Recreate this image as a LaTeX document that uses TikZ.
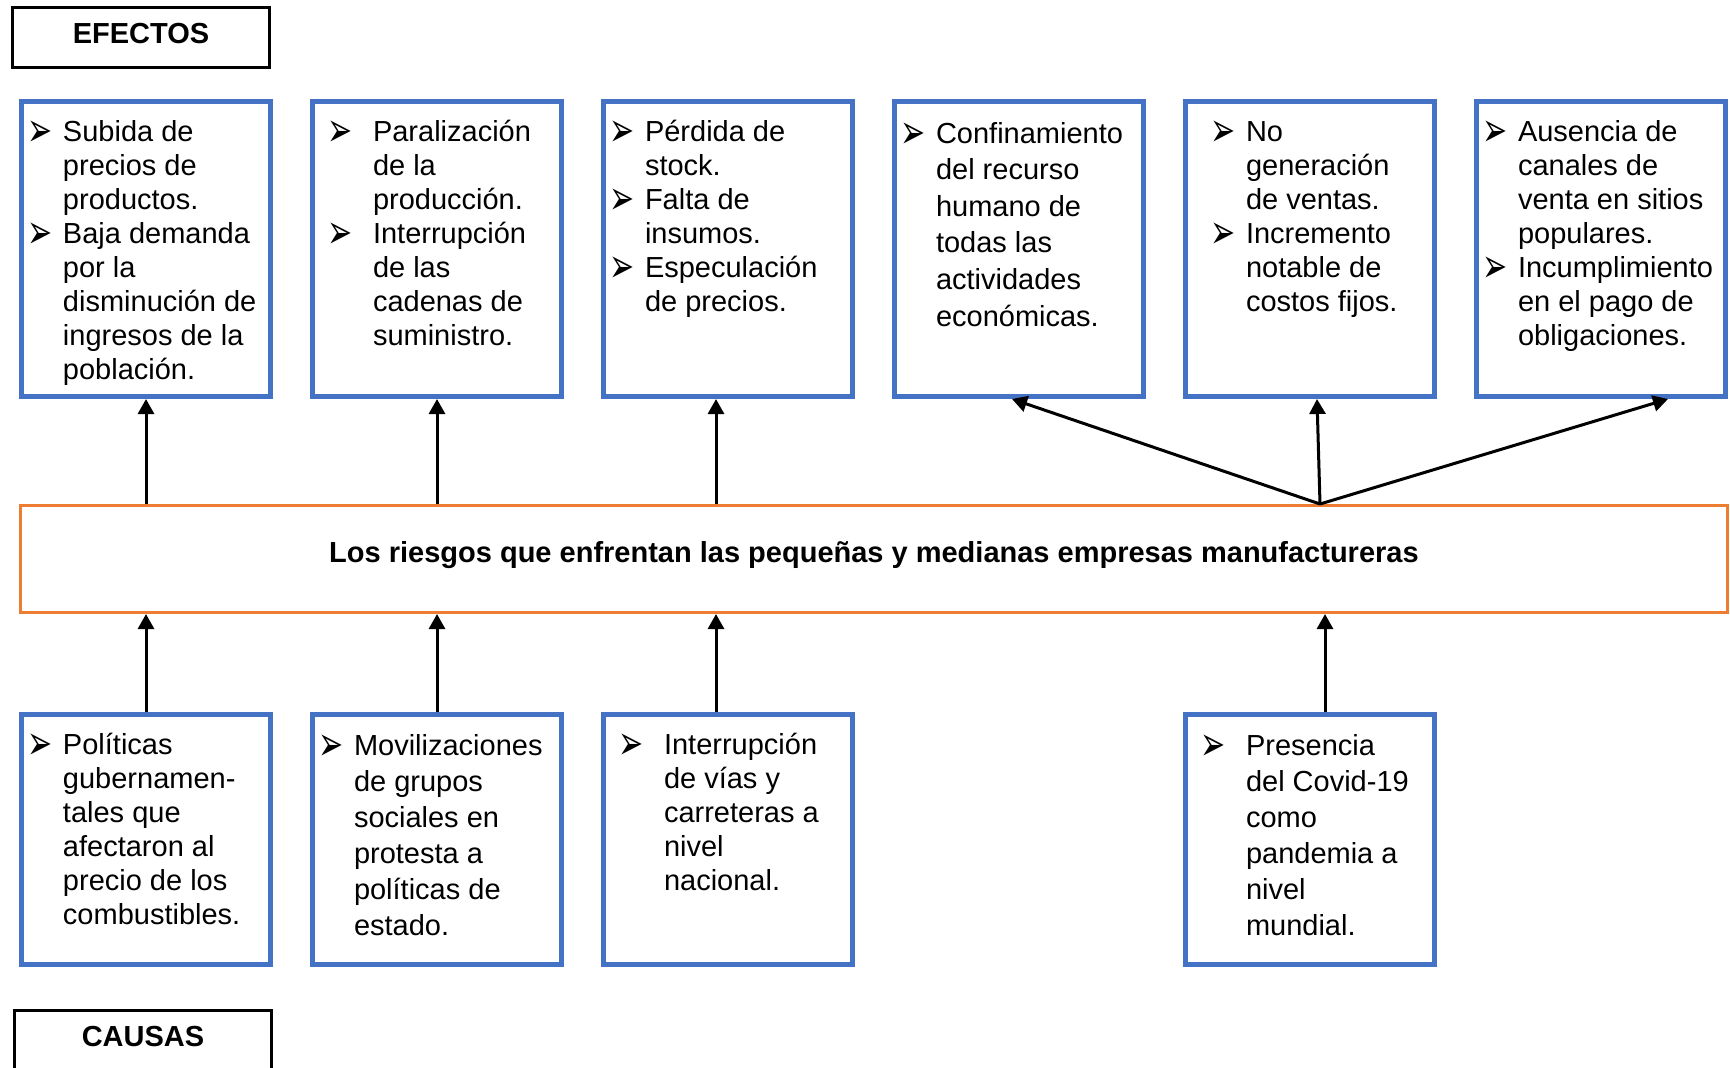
\documentclass[tikz,border=0pt]{standalone}
\usepackage{fontspec}
\setmainfont{Liberation Sans}
\newfontfamily\dingfont{DejaVu Sans}
\usetikzlibrary{arrows.meta,positioning}
\definecolor{azul}{HTML}{4472C4}
\definecolor{naranja}{HTML}{ED7D31}
\newcommand{\bul}{\raisebox{-2.5pt}{\scalebox{1}[1.6]{\dingfont\fontsize{15}{15}\selectfont ➢}}}
% caja de texto: alto, sangria, ancho de la vinieta, filas
\newcommand{\caja}[4]{\parbox[t][#1][t]{124.5pt}{\hspace*{#2}\begin{tabular}[t]{@{}p{#3}@{}l@{}}#4\end{tabular}}}
\tikzset{
  etiqueta/.style={rectangle, draw, line width=1.5pt, minimum width=128.5pt, minimum height=30pt, text depth=4pt, font=\bfseries\fontsize{14.5}{17}\selectfont},
  efecto/.style={rectangle, draw=azul, line width=2.5pt, inner xsep=0pt, inner ysep=8pt, font=\fontsize{14.5}{17}\selectfont},
  nucleo/.style={rectangle, draw=naranja, line width=1.5pt, minimum width=853.5pt, minimum height=53.5pt, text height=10.5pt, text depth=7pt, font=\bfseries\fontsize{14.5}{17}\selectfont},
  flecha/.style={-{Triangle[length=7.5pt,width=8pt]}, line width=1.5pt}
}
\begin{document}
\begin{tikzpicture}[x=0.5pt, y=0.5pt, node distance=18.5pt]
\useasboundingbox (0,0) rectangle (1730,-1067);
\clip (0,0) rectangle (1730,-1067);
% efectos
\node[etiqueta, anchor=north west] (efectos) at (11,-6) {EFECTOS};
\node[efecto, anchor=north west] (ef1) at (19,-99) {\caja{131.5pt}{2.75pt}{18pt}{\bul & Subida de\\ & precios de\\ & productos.\\ \bul & Baja demanda\\ & por la\\ & disminución de\\ & ingresos de la\\ & población.}};
\node[efecto, right=of ef1] (ef2) {\caja{131.5pt}{7.25pt}{23pt}{\bul & Paralización\\ & de la\\ & producción.\\ \bul & Interrupción\\ & de las\\ & cadenas de\\ & suministro.}};
\node[efecto, right=of ef2] (ef3) {\caja{131.5pt}{2.75pt}{18pt}{\bul & Pérdida de\\ & stock.\\ \bul & Falta de\\ & insumos.\\ \bul & Especulación\\ & de precios.}};
\node[efecto, right=of ef3, font=\fontsize{14.5}{18.3}\selectfont] (ef4) {\caja{131.5pt}{2.75pt}{18pt}{\bul & Confinamiento\\ & del recurso\\ & humano de\\ & todas las\\ & actividades\\ & económicas.}};
\node[efecto, right=of ef4] (ef5) {\caja{131.5pt}{12.25pt}{18pt}{\bul & No\\ & generación\\ & de ventas.\\ \bul & Incremento\\ & notable de\\ & costos fijos.}};
\node[efecto, right=of ef5] (ef6) {\caja{131.5pt}{2.75pt}{18pt}{\bul & Ausencia de\\ & canales de\\ & venta en sitios\\ & populares.\\ \bul & Incumplimiento\\ & en el pago de\\ & obligaciones.}};
% problema
\node[nucleo, below=52.5pt of ef1.south west, anchor=north west] (core) {Los riesgos que enfrentan las pequeñas y medianas empresas manufactureras};
% causas
\node[efecto, below=49pt of core.south west, anchor=north west] (ca1) {\caja{109pt}{2.75pt}{18pt}{\bul & Políticas\\ & gubernamen-\\ & tales que\\ & afectaron al\\ & precio de los\\ & combustibles.}};
\node[efecto, font=\fontsize{14.5}{18}\selectfont] (ca2) at (ef2 |- ca1) {\caja{109pt}{2.75pt}{18pt}{\bul & Movilizaciones\\ & de grupos\\ & sociales en\\ & protesta a\\ & políticas de\\ & estado.}};
\node[efecto] (ca3) at (ef3 |- ca1) {\caja{109pt}{7.25pt}{23pt}{\bul & Interrupción\\ & de vías y\\ & carreteras a\\ & nivel\\ & nacional.}};
\node[efecto, font=\fontsize{14.5}{18}\selectfont] (ca4) at (ef5 |- ca1) {\caja{109pt}{7.25pt}{23pt}{\bul & Presencia\\ & del Covid-19\\ & como\\ & pandemia a\\ & nivel\\ & mundial.}};
\node[etiqueta, anchor=north west] (causas) at (13,-1009) {CAUSAS};
% flechas hacia los efectos
\coordinate (p3) at ([xshift=-6pt]ef3.south);
\coordinate (p4) at ([xshift=-3.5pt]ef4.south);
\coordinate (p5) at ([xshift=3.5pt]ef5.south);
\coordinate (p6) at ([xshift=33.5pt]ef6.south);
\coordinate (abanico) at ([xshift=5pt]ef5.south);
\draw[flecha] (core.north -| ef1) -- (ef1);
\draw[flecha] (core.north -| ef2) -- (ef2);
\draw[flecha] (core.north -| p3) -- (p3);
\draw[flecha] (core.north -| abanico) -- (p4);
\draw[flecha] (core.north -| abanico) -- (p5);
\draw[flecha] (core.north -| abanico) -- (p6);
% flechas desde las causas
\coordinate (q3) at ([xshift=-6pt]ca3.north);
\coordinate (q4) at ([xshift=7.5pt]ca4.north);
\draw[flecha] (ca1) -- (ca1 |- core.south);
\draw[flecha] (ca2) -- (ca2 |- core.south);
\draw[flecha] (q3) -- (q3 |- core.south);
\draw[flecha] (q4) -- (q4 |- core.south);
\end{tikzpicture}
\end{document}
